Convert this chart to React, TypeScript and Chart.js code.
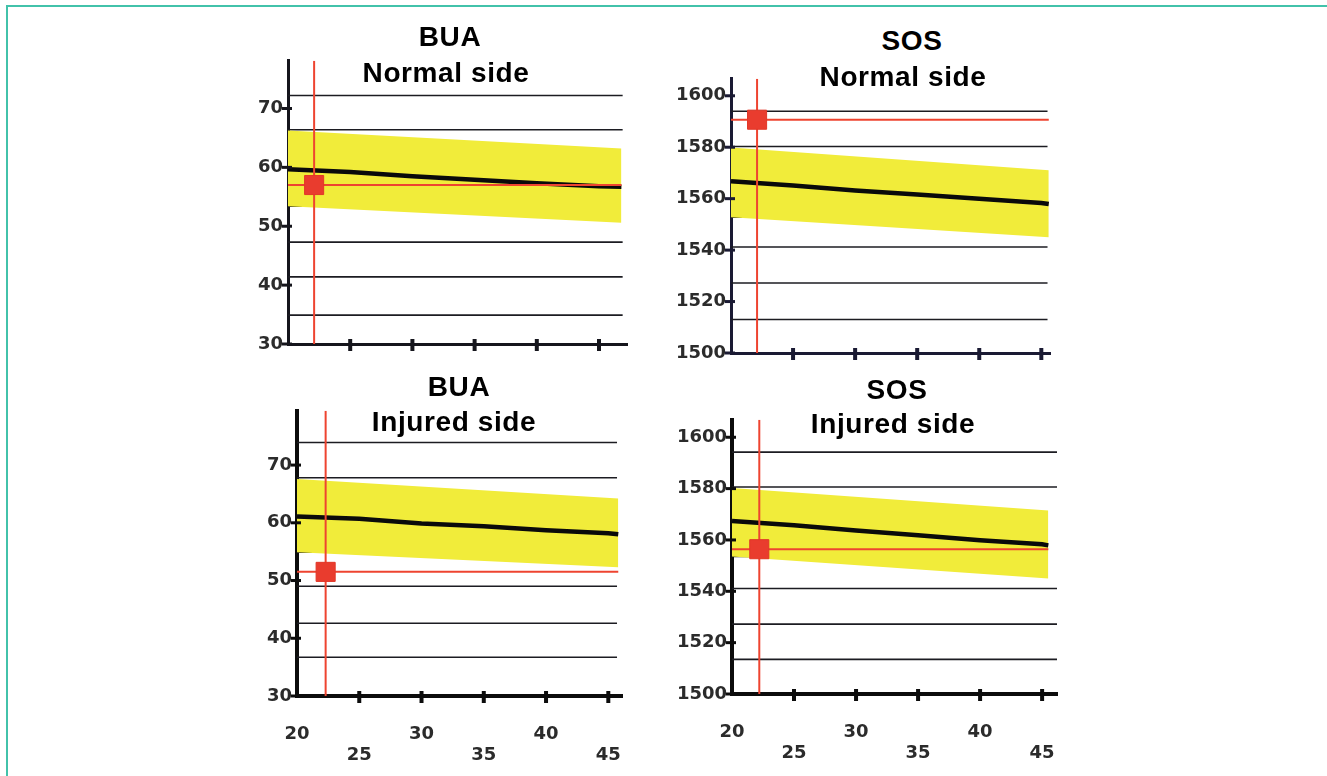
import React, { useEffect, useRef } from "react";
import { Chart, registerables } from "chart.js";
Chart.register(...registerables);

// ---------------- data ----------------
const xTickValues = [20, 25, 30, 35, 40, 45];
const buaTickValues = [30, 40, 50, 60, 70];
const sosTickValues = [1500, 1520, 1540, 1560, 1580, 1600];

const buaNormalMeanAge = [20, 25, 30, 35, 40, 45, 46.8];
const buaNormalMean = [59.7, 59.2, 58.5, 57.9, 57.3, 56.8, 56.7];
const buaNormalBandAge = [19.8, 46.8];
const buaNormalUpper = [66.3, 63.2];
const buaNormalLower = [53.4, 50.6];
const buaNormalRefLines = [72.2, 66.4, 53.4, 47.3, 41.4, 34.9];
const buaNormalPatient = [22.1, 57.0];

const sosNormalMeanAge = [20, 25, 30, 35, 40, 45, 45.6];
const sosNormalMean = [1566.8, 1565.1, 1563.2, 1561.6, 1560.0, 1558.3, 1557.9];
const sosNormalBandAge = [19.8, 45.6];
const sosNormalUpper = [1580.0, 1571.0];
const sosNormalLower = [1552.8, 1545.0];
const sosNormalRefLines = [1594.0, 1580.3, 1552.8, 1541.2, 1527.2, 1513.0];
const sosNormalPatient = [22.1, 1590.7];

const buaInjuredMeanAge = [20, 25, 30, 35, 40, 45, 45.8];
const buaInjuredMean = [61.1, 60.7, 59.9, 59.4, 58.7, 58.2, 58.0];
const buaInjuredBandAge = [19.8, 45.8];
const buaInjuredUpper = [67.6, 64.2];
const buaInjuredLower = [54.9, 52.3];
const buaInjuredRefLines = [73.9, 67.8, 54.9, 49.0, 42.6, 36.7];
const buaInjuredPatient = [22.3, 51.5];

const sosInjuredMeanAge = [20, 25, 30, 35, 40, 45, 45.5];
const sosInjuredMean = [1567.4, 1565.7, 1563.7, 1561.8, 1559.9, 1558.3, 1557.9];
const sosInjuredBandAge = [19.8, 45.5];
const sosInjuredUpper = [1580.3, 1571.5];
const sosInjuredLower = [1553.6, 1545.0];
const sosInjuredRefLines = [1594.2, 1580.6, 1553.6, 1541.1, 1527.2, 1513.5];
const sosInjuredPatient = [22.2, 1556.4];

// ---------------- panels (layout / style) ----------------
type PanelCfg = {
  id: string;
  title: string;
  subtitle: string;
  titleX: number;
  titleBase: number;
  subX: number;
  subBase: number;
  area: { left: number; top: number; right: number; bottom: number };
  xRange: [number, number];
  yRange: [number, number];
  yTicks: number[];
  showXLabels: boolean;
  meanAge: number[];
  mean: number[];
  bandAge: number[];
  upper: number[];
  lower: number[];
  refLines: number[];
  refEnd: number;
  patient: number[];
  redEnd: number;
  axisWidth: number;
  axisColor: string;
};

const PANELS: PanelCfg[] = [
  {
    id: "buaN", title: "BUA", subtitle: "Normal side",
    titleX: 450, titleBase: 47, subX: 446, subBase: 83,
    area: { left: 288, top: 60, right: 627, bottom: 344 },
    xRange: [20, 47.25], yRange: [30, 78.1], yTicks: buaTickValues, showXLabels: false,
    meanAge: buaNormalMeanAge, mean: buaNormalMean, bandAge: buaNormalBandAge,
    upper: buaNormalUpper, lower: buaNormalLower, refLines: buaNormalRefLines, refEnd: 46.9,
    patient: buaNormalPatient, redEnd: 46.8, axisWidth: 3, axisColor: "#15151c",
  },
  {
    id: "sosN", title: "SOS", subtitle: "Normal side",
    titleX: 912, titleBase: 51, subX: 903, subBase: 87,
    area: { left: 731, top: 78, right: 1050, bottom: 353 },
    xRange: [20, 45.7], yRange: [1500, 1606.6], yTicks: sosTickValues, showXLabels: false,
    meanAge: sosNormalMeanAge, mean: sosNormalMean, bandAge: sosNormalBandAge,
    upper: sosNormalUpper, lower: sosNormalLower, refLines: sosNormalRefLines, refEnd: 45.5,
    patient: sosNormalPatient, redEnd: 45.6, axisWidth: 3, axisColor: "#1a1a33",
  },
  {
    id: "buaI", title: "BUA", subtitle: "Injured side",
    titleX: 459, titleBase: 397, subX: 454, subBase: 432,
    area: { left: 297, top: 410, right: 622, bottom: 696 },
    xRange: [20, 46.1], yRange: [30, 79.4], yTicks: buaTickValues, showXLabels: true,
    meanAge: buaInjuredMeanAge, mean: buaInjuredMean, bandAge: buaInjuredBandAge,
    upper: buaInjuredUpper, lower: buaInjuredLower, refLines: buaInjuredRefLines, refEnd: 45.7,
    patient: buaInjuredPatient, redEnd: 45.8, axisWidth: 4, axisColor: "#0c0c0c",
  },
  {
    id: "sosI", title: "SOS", subtitle: "Injured side",
    titleX: 897, titleBase: 400, subX: 893, subBase: 434,
    area: { left: 732, top: 419, right: 1057, bottom: 694 },
    xRange: [20, 46.2], yRange: [1500, 1606.8], yTicks: sosTickValues, showXLabels: true,
    meanAge: sosInjuredMeanAge, mean: sosInjuredMean, bandAge: sosInjuredBandAge,
    upper: sosInjuredUpper, lower: sosInjuredLower, refLines: sosInjuredRefLines, refEnd: 46.2,
    patient: sosInjuredPatient, redEnd: 45.5, axisWidth: 4, axisColor: "#0c0c0c",
  },
];

const YELLOW = "rgb(241, 236, 58)";
const RED = "rgb(238, 68, 48)";
const GRID = "#1c1c22";
const TICK_FONT = { family: "'DejaVu Sans', sans-serif", size: 18, weight: "bold" as const };
const TITLE_FS = 28;

const PAD_L = 70;
const PAD_T = 15;
const PAD_R = 40;
const PAD_B = 70;

function Panel({ cfg }: { cfg: PanelCfg }) {
  const ref = useRef<HTMLCanvasElement | null>(null);
  const cLeft = cfg.area.left - PAD_L;
  const cTop = cfg.area.top - PAD_T;
  const cW = cfg.area.right + PAD_R - cLeft;
  const cH = cfg.area.bottom + PAD_B - cTop;

  useEffect(() => {
    if (!ref.current) return;
    const [xMin, xMax] = cfg.xRange;
    const [yMin, yMax] = cfg.yRange;
    const last = cfg.bandAge.length - 1;
    const bandEnd = cfg.bandAge[last];

    const bandUpper = cfg.bandAge.map((a, i) => ({ x: a, y: cfg.upper[i] }));
    const bandLower = cfg.bandAge.map((a, i) => ({ x: a, y: cfg.lower[i] }));
    const meanPts = cfg.meanAge.map((a, i) => ({ x: a, y: cfg.mean[i] }));

    const refSets = cfg.refLines.map((v) => {
      const hidden = v <= cfg.upper[last] && v >= cfg.lower[last];
      const end = hidden ? Math.min(cfg.refEnd, bandEnd - 0.2) : cfg.refEnd;
      return {
        data: [{ x: xMin, y: v }, { x: end, y: v }],
        borderColor: GRID,
        borderWidth: 1.6,
        pointRadius: 0,
        fill: false,
        order: 10,
      };
    });

    const crossTicks = {
      id: "crossTicks" + cfg.id,
      afterDatasetsDraw(chart: any) {
        const { ctx, chartArea, scales } = chart;
        ctx.save();
        ctx.strokeStyle = cfg.axisColor;
        ctx.lineCap = "butt";
        ctx.lineWidth = 4;
        xTickValues.slice(1).forEach((v) => {
          const px = scales.x.getPixelForValue(v);
          ctx.beginPath();
          ctx.moveTo(px, chartArea.bottom - 5);
          ctx.lineTo(px, chartArea.bottom + 7);
          ctx.stroke();
        });
        ctx.lineWidth = 3;
        cfg.yTicks.forEach((v) => {
          const py = scales.y.getPixelForValue(v);
          ctx.beginPath();
          ctx.moveTo(chartArea.left - 6, py);
          ctx.lineTo(chartArea.left + 4, py);
          ctx.stroke();
        });
        ctx.restore();
      },
    };

    const chart = new Chart(ref.current, {
      type: "line",
      data: {
        datasets: [
          {
            data: bandUpper,
            borderWidth: 0,
            borderColor: "rgba(0,0,0,0)",
            pointRadius: 0,
            fill: false,
            order: 9,
          },
          {
            data: bandLower,
            borderWidth: 0,
            borderColor: "rgba(0,0,0,0)",
            backgroundColor: YELLOW,
            pointRadius: 0,
            fill: "-1",
            order: 9,
          },
          ...refSets,
          {
            data: meanPts,
            borderColor: "#0a0a0a",
            borderWidth: 4.5,
            pointRadius: 0,
            fill: false,
            order: 3,
          },
          {
            data: [{ x: xMin, y: cfg.patient[1] }, { x: cfg.redEnd, y: cfg.patient[1] }],
            borderColor: RED,
            borderWidth: 2,
            pointRadius: 0,
            fill: false,
            order: 2,
          },
          {
            data: [{ x: cfg.patient[0], y: yMin }, { x: cfg.patient[0], y: yMax }],
            borderColor: RED,
            borderWidth: 2,
            pointRadius: 0,
            fill: false,
            order: 2,
          },
          {
            data: [{ x: cfg.patient[0], y: cfg.patient[1] }],
            showLine: false,
            pointStyle: "rect",
            pointRadius: 13.5,
            pointBackgroundColor: "rgb(233, 60, 46)",
            pointBorderColor: "rgb(226, 55, 40)",
            pointBorderWidth: 1,
            order: 1,
          },
        ] as any,
      },
      options: {
        responsive: false,
        maintainAspectRatio: false,
        animation: false,
        events: [],
        layout: { padding: { left: 0, top: PAD_T, right: PAD_R, bottom: 0 } },
        elements: { line: { tension: 0 } },
        plugins: { legend: { display: false }, tooltip: { enabled: false }, title: { display: false } },
        scales: {
          x: {
            type: "linear",
            min: xMin,
            max: xMax,
            afterBuildTicks: (s: any) => {
              s.ticks = xTickValues.map((v) => ({ value: v }));
            },
            afterFit: (s: any) => {
              s.height = PAD_B;
            },
            grid: { display: false, drawTicks: false },
            border: { display: true, width: cfg.axisWidth, color: cfg.axisColor },
            ticks: {
              display: cfg.showXLabels,
              autoSkip: false,
              maxRotation: 0,
              padding: 28,
              color: "#2b2b2b",
              font: { ...TICK_FONT, lineHeight: "21px" } as any,
              callback: (value: any, index: number) =>
                index % 2 === 0 ? [String(value), ""] : ["", String(value)],
            },
          },
          y: {
            type: "linear",
            min: yMin,
            max: yMax,
            afterBuildTicks: (s: any) => {
              s.ticks = cfg.yTicks.map((v) => ({ value: v }));
            },
            afterFit: (s: any) => {
              s.width = PAD_L;
            },
            grid: { display: false, drawTicks: false },
            border: { display: true, width: cfg.axisWidth, color: cfg.axisColor },
            ticks: {
              padding: 5,
              color: "#2b2b2b",
              font: TICK_FONT,
              callback: (value: any) => String(value),
            },
          },
        },
      },
      plugins: [crossTicks],
    });
    return () => chart.destroy();
  }, [cfg]);

  const titleStyle = (x: number, base: number): React.CSSProperties => ({
    position: "absolute",
    left: x,
    top: base - TITLE_FS * 0.8465,
    transform: "translateX(-50%)",
    font: `bold ${TITLE_FS}px 'Liberation Sans', Arial, sans-serif`,
    lineHeight: `${TITLE_FS}px`,
    letterSpacing: "0.6px",
    whiteSpace: "nowrap",
    color: "#000",
  });

  return (
    <>
      <canvas
        ref={ref}
        width={cW}
        height={cH}
        style={{ position: "absolute", left: cLeft, top: cTop, width: cW, height: cH }}
      />
      <div style={titleStyle(cfg.titleX, cfg.titleBase)}>{cfg.title}</div>
      <div style={titleStyle(cfg.subX, cfg.subBase)}>{cfg.subtitle}</div>
    </>
  );
}

export default function App() {
  return (
    <div
      style={{
        position: "absolute",
        left: 0,
        top: 0,
        width: 1327,
        height: 776,
        overflow: "hidden",
        background: "#fff",
      }}
    >
      <div
        style={{
          position: "absolute",
          left: 6,
          top: 5,
          width: 1400,
          height: 900,
          border: "2px solid rgb(66, 194, 170)",
        }}
      />
      {PANELS.map((p) => (
        <Panel key={p.id} cfg={p} />
      ))}
    </div>
  );
}
